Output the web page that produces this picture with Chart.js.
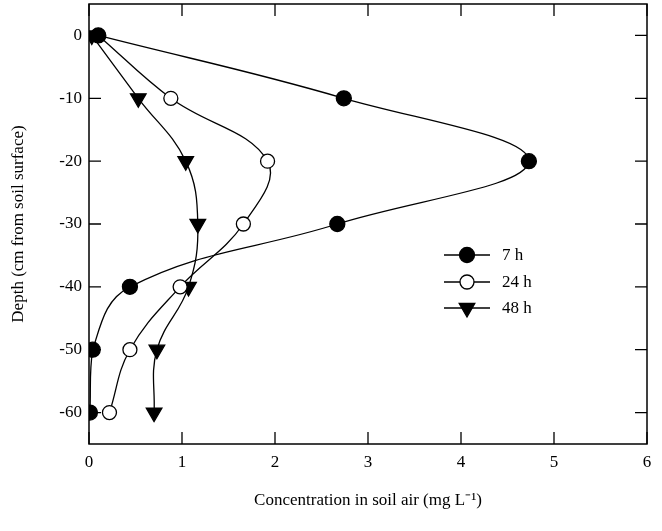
<!DOCTYPE html>
<html>
<head>
<meta charset="utf-8">
<script src="https://cdn.jsdelivr.net/npm/chart.js"></script>
<style>
html,body{margin:0;padding:0;background:#fff;}
#wrap{width:662px;height:531px;}
</style>
</head>
<body>
<div id="wrap"><canvas id="c" width="662" height="531"></canvas></div>
<script>
// ---- data ----
const depths = [0, -10, -20, -30, -40, -50, -60];
const conc7h  = [0.10, 2.74, 4.73, 2.67, 0.44, 0.04, 0.01];
const conc24h = [0.10, 0.88, 1.92, 1.66, 0.98, 0.44, 0.22];
const conc48h = [0.03, 0.53, 1.04, 1.17, 1.07, 0.73, 0.70];
const seriesLabels = ['7 h', '24 h', '48 h'];
const xTicks = [0, 1, 2, 3, 4, 5, 6];
const yTicks = [0, -10, -20, -30, -40, -50, -60];

const FONT = "'Liberation Serif', 'Times New Roman', serif";

function pts(vals){ return vals.map((v,i)=>({x:v, y:depths[i]})); }

const styles = [
  {pointStyle:'circle', radius:7.5, rotation:0, bg:'#000', border:'#000'},
  {pointStyle:'circle', radius:7, rotation:0, bg:'#fff', border:'#000'},
  {pointStyle:'triangle', radius:9, rotation:180, bg:'#000', border:'#000'}
];
const seriesData = [conc7h, conc24h, conc48h];

const datasets = seriesData.map((vals, i) => ({
  label: seriesLabels[i],
  data: pts(vals),
  showLine: true,
  borderColor: '#000',
  borderWidth: 1.3,
  tension: 0.4,
  pointStyle: styles[i].pointStyle,
  pointRadius: styles[i].radius,
  pointRotation: styles[i].rotation,
  pointBackgroundColor: styles[i].bg,
  pointBorderColor: styles[i].border,
  pointBorderWidth: 1.3,
  pointHoverRadius: styles[i].radius
}));

const framePlugin = {
  id: 'frame',
  afterDatasetsDraw(chart){
    const ctx = chart.ctx;
    const a = chart.chartArea;
    const xs = chart.scales.x, ys = chart.scales.y;
    ctx.save();
    ctx.strokeStyle = '#000';
    ctx.lineWidth = 1.5;
    ctx.strokeRect(a.left, a.top, a.right - a.left, a.bottom - a.top);
    const TL = 12;
    ctx.lineWidth = 1.3;
    ctx.beginPath();
    xTicks.forEach(v => {
      const px = xs.getPixelForValue(v);
      ctx.moveTo(px, a.bottom); ctx.lineTo(px, a.bottom - TL);
      ctx.moveTo(px, a.top); ctx.lineTo(px, a.top + TL);
    });
    yTicks.forEach(v => {
      const py = ys.getPixelForValue(v);
      ctx.moveTo(a.left, py); ctx.lineTo(a.left + TL, py);
      ctx.moveTo(a.right, py); ctx.lineTo(a.right - TL, py);
    });
    ctx.stroke();

    // legend (inside plot)
    const lx0 = 444, lx1 = 490, mx = 467, tx = 502;
    const rows = [255, 282, 308];
    ctx.font = '17px ' + FONT;
    ctx.textBaseline = 'middle';
    ctx.textAlign = 'left';
    ctx.fillStyle = '#000';
    chart.data.datasets.forEach((ds, i) => {
      const y = rows[i];
      ctx.lineWidth = 1.3;
      ctx.beginPath(); ctx.moveTo(lx0, y); ctx.lineTo(lx1, y); ctx.stroke();
      ctx.fillStyle = ds.pointBackgroundColor;
      ctx.strokeStyle = ds.pointBorderColor;
      Chart.helpers.drawPoint(ctx, {pointStyle: ds.pointStyle, radius: ds.pointRadius, rotation: ds.pointRotation, borderWidth: 1.3}, mx, y);
      ctx.fillStyle = '#000';
      ctx.strokeStyle = '#000';
      ctx.fillText(ds.label, tx, y + 1);
    });
    ctx.restore();
  }
};

new Chart(document.getElementById('c'), {
  type: 'scatter',
  data: { datasets },
  plugins: [framePlugin],
  options: {
    responsive: false,
    animation: false,
    layout: { autoPadding: false, padding: { top: 4, right: 15, bottom: 0, left: 0 } },
    plugins: { legend: { display: false }, tooltip: { enabled: false } },
    scales: {
      x: {
        type: 'linear', min: 0, max: 6,
        grid: { display: false, drawTicks: false },
        border: { display: false },
        afterBuildTicks(s){ s.ticks = xTicks.map(v => ({value: v})); },
        afterFit(s){ s.height = 87; s.paddingLeft = 0; s.paddingRight = 0; },
        ticks: { color: '#000', padding: 8, font: { family: FONT, size: 17 }, maxRotation: 0, autoSkip: false },
        title: { display: true, text: 'Concentration in soil air (mg L\u207B\u00B9)', color: '#000',
                 font: { family: FONT, size: 17 }, padding: { top: 0, bottom: 20 } }
      },
      y: {
        type: 'linear', min: -65, max: 5,
        grid: { display: false, drawTicks: false },
        border: { display: false },
        afterBuildTicks(s){ s.ticks = yTicks.map(v => ({value: v})); },
        afterFit(s){ s.width = 89; s.paddingTop = 0; s.paddingBottom = 0; },
        ticks: { color: '#000', padding: 7, font: { family: FONT, size: 17 }, autoSkip: false,
                 callback: v => String(v) },
        title: { display: true, text: 'Depth (cm from soil surface)', color: '#000',
                 font: { family: FONT, size: 17 }, padding: { top: 8, bottom: 0 } }
      }
    }
  }
});
</script>
</body>
</html>
